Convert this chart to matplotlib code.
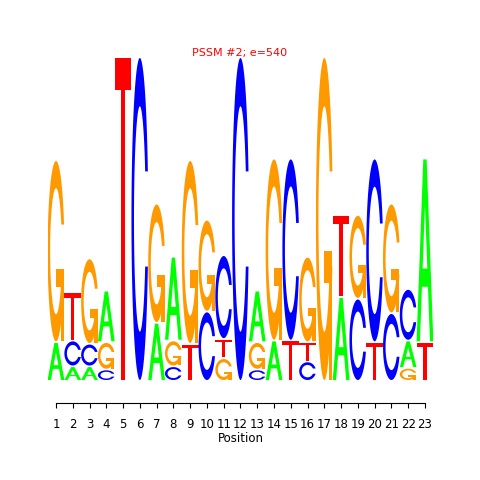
import numpy as np
import matplotlib
matplotlib.use("Agg")
import matplotlib.pyplot as plt
from matplotlib.patches import Polygon

# stacked letters per position, bottom to top, heights in bits
positions = list(range(1, 24))
letters = [
    ["A", "G"], ["A", "C", "T"], ["A", "C", "G"], ["C", "G", "A"], ["T"],
    ["C"], ["A", "G"], ["C", "G", "A"], ["T", "G"], ["C", "G"],
    ["G", "T", "C"], ["C"], ["C", "G", "A"], ["A", "G"], ["T", "C"],
    ["C", "T", "G"], ["G"], ["A", "T"], ["C", "G"], ["T", "C"],
    ["C", "G"], ["G", "A", "C"], ["T", "A"],
]
heights = [
    [0.24, 1.12], [0.09, 0.16, 0.29], [0.09, 0.14, 0.52], [0.07, 0.17, 0.31], [2.0],
    [2.0], [0.36, 0.73], [0.09, 0.16, 0.51], [0.23, 1.13], [0.43, 0.56],
    [0.14, 0.12, 0.51], [2.0], [0.07, 0.17, 0.31], [0.25, 1.12], [0.25, 1.12],
    [0.12, 0.12, 0.52], [2.0], [0.52, 0.50], [0.51, 0.51], [0.24, 1.13],
    [0.42, 0.67], [0.08, 0.17, 0.31], [0.24, 1.13],
]
COLORS = {"A": "#00FF00", "C": "#0000FF", "G": "#FF9900", "T": "#FF0000"}
GAP = 0.01


def c_outline():
    # C-shaped ring in the unit square (polygon letters, seqLogo style)
    a1 = np.linspace(0.3 + np.pi / 2, np.pi, 100)
    a2 = np.linspace(np.pi, 1.5 * np.pi, 100)
    xl = np.r_[0.5 + 0.5 * np.sin(a1), 0.5 + 0.5 * np.sin(a2)]
    yl = np.r_[0.5 + 0.5 * np.cos(a1), 0.5 + 0.5 * np.cos(a2)]
    x = np.r_[xl, xl[::-1]]
    y = np.r_[yl, 1 - yl[::-1]]
    top = (0.5 + 0.5 * np.cos(a1)).max()
    xi1 = 0.5 + 0.35 * np.sin(a1)
    yi1 = 0.5 + 0.35 * np.cos(a1)
    keep = yi1 <= top
    xi1, yi1 = xi1[keep], yi1[keep]
    yi1[0] = top
    xi = np.r_[xi1, 0.5 + 0.35 * np.sin(a2)]
    yi = np.r_[yi1, 0.5 + 0.35 * np.cos(a2)]
    x1 = np.r_[xi, xi[::-1]]
    y1 = np.r_[yi, 1 - yi[::-1]]
    return np.r_[x, x1[::-1]], np.r_[y, y1[::-1]]


def letter_shapes(ch):
    """list of (x, y, use_letter_colour) polygons in the unit square"""
    if ch == "A":
        return [(np.array([0, 4, 6, 10, 8, 6.8, 3.2, 2, 0]) / 10,
                 np.array([0, 10, 10, 0, 0, 3, 3, 0, 0]) / 10, True),
                (np.array([3.6, 5, 6.4, 3.6]) / 10,
                 np.array([4, 7.5, 4, 4]) / 10, False)]
    if ch == "T":
        return [(np.array([0, 10, 10, 6, 6, 4, 4, 0]) / 10,
                 np.array([10, 10, 9, 9, 0, 0, 9, 9]) / 10, True)]
    x, y = c_outline()
    if ch == "C":
        return [(x, y, True)]
    r1 = 0.5 + 0.5 * np.sin(0.3 + np.pi / 2)
    h1 = 0.4
    xa = np.array([r1, 0.5, 0.5, r1 - 0.2, r1 - 0.2, r1, r1])
    ya = np.array([h1, h1, h1 - 0.1, h1 - 0.1, 0, 0, h1])
    return [(x, y, True), (xa, ya, True)]


def draw_letter(ax, ch, x0, y0, h, w=1.0):
    for px, py, own in letter_shapes(ch):
        xy = np.column_stack([x0 + w * px, y0 + h * py])
        ax.add_patch(Polygon(xy, closed=True, lw=0,
                             fc=COLORS[ch] if own else "white"))


fig = plt.figure(figsize=(4.8, 4.8), dpi=100)
ax = fig.add_axes([0.0992, 0.1604, 0.8036, 0.71875])

for pos, chars, hs in zip(positions, letters, heights):
    y = 0.0
    for k, (ch, h) in enumerate(zip(chars, hs)):
        hh = h if k == len(chars) - 1 else h - GAP
        draw_letter(ax, ch, pos - 0.5, y, hh)
        y += h

ax.set_xlim(0.5, 23.5)
ax.set_ylim(-0.143, 2.0)
for s in ["top", "right", "left"]:
    ax.spines[s].set_visible(False)
ax.spines["bottom"].set_bounds(1, 23)
ax.spines["bottom"].set_linewidth(0.8)
ax.set_yticks([])
ax.set_xticks(positions)
ax.set_xticklabels([str(p) for p in positions])
ax.tick_params(axis="x", length=3.6, width=0.8, pad=7.5, labelsize=8.5)
ax.set_xlabel("Position", fontsize=8.5, labelpad=0.5)

fig.text(0.5, 1 - 53 / 480, "PSSM #2; e=540", color="#FF0000",
         fontsize=8, ha="center", va="center")

fig.savefig("out.png", dpi=100)
